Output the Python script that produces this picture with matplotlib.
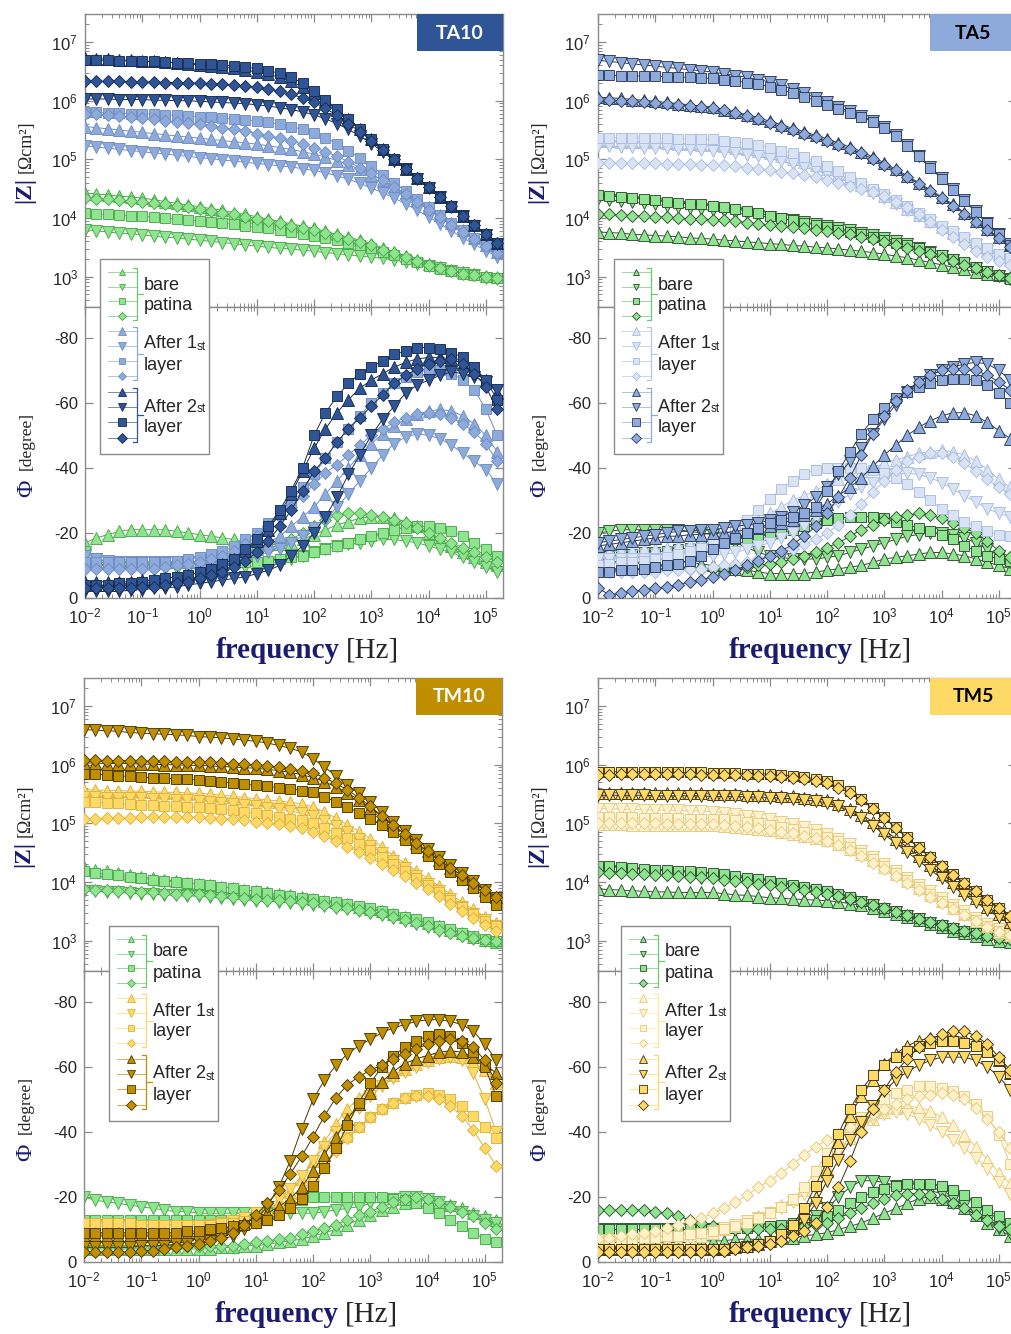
import numpy as np
import matplotlib
matplotlib.use('Agg')
import matplotlib.pyplot as plt
from matplotlib.patches import Rectangle
from matplotlib.ticker import LogLocator

plt.rcParams['font.family'] = ['Liberation Sans', 'DejaVu Sans']
plt.rcParams['axes.unicode_minus'] = False
plt.rcParams['mathtext.fontset'] = 'custom'
plt.rcParams['mathtext.rm'] = 'Liberation Sans'
plt.rcParams['mathtext.it'] = 'Liberation Sans:italic'
plt.rcParams['mathtext.bf'] = 'Liberation Sans:bold'

# ---------------- data ----------------
# measured frequencies (log10 Hz)
FREQ_EXP = [-2.0, -1.8, -1.6, -1.4, -1.2, -1.0, -0.8, -0.6, -0.4, -0.2,
            0.0, 0.2, 0.4, 0.6, 0.8, 1.0, 1.2, 1.4, 1.6, 1.8,
            2.0, 2.2, 2.4, 2.6, 2.8, 3.0, 3.2, 3.4, 3.6, 3.8,
            4.0, 4.2, 4.4, 4.6, 4.8, 5.0, 5.2]

GROUP_LABELS = [('bare', 'patina'), ('After 1', 'layer'), ('After 2', 'layer')]
PANEL_NAMES = ['TA10', 'TA5', 'TM10', 'TM5']

# each group: series in marker order [up-triangle, down-triangle, square, diamond]
# |Z| values as log10(|Z| / Ohm cm2); phase in degrees

# ---- TA10 ----
TA10_Z_BARE = [
    [4.42,4.41,4.39,4.37,4.36,4.34,4.31,4.28,4.25,4.22,4.19,4.16,4.13,4.09,4.06,4.02,3.98,3.94,3.90,3.86,3.82,3.77,3.72,3.67,3.62,3.56,3.49,3.42,3.35,3.28,3.22,3.16,3.11,3.07,3.04,3.01,2.99],
    [3.80,3.78,3.76,3.74,3.73,3.71,3.69,3.67,3.66,3.64,3.62,3.60,3.58,3.56,3.54,3.52,3.50,3.48,3.47,3.45,3.43,3.41,3.39,3.37,3.35,3.33,3.31,3.28,3.25,3.22,3.18,3.14,3.10,3.06,3.02,2.98,2.95],
    [4.08,4.07,4.06,4.05,4.04,4.03,4.01,4.00,3.98,3.97,3.95,3.93,3.91,3.89,3.86,3.84,3.82,3.79,3.76,3.73,3.70,3.66,3.62,3.58,3.53,3.48,3.42,3.36,3.30,3.24,3.18,3.13,3.09,3.05,3.02,2.99,2.98],
    [4.34,4.33,4.32,4.30,4.29,4.27,4.25,4.23,4.20,4.18,4.15,4.12,4.09,4.06,4.02,3.99,3.95,3.91,3.87,3.83,3.79,3.74,3.69,3.64,3.59,3.53,3.46,3.40,3.33,3.26,3.20,3.14,3.09,3.05,3.02,2.99,2.97]]
TA10_Z_L1 = [
    [5.56,5.54,5.52,5.50,5.48,5.46,5.44,5.42,5.40,5.38,5.36,5.34,5.32,5.30,5.28,5.26,5.23,5.20,5.17,5.13,5.09,5.04,4.98,4.91,4.83,4.74,4.64,4.53,4.42,4.30,4.18,4.05,3.92,3.79,3.66,3.54,3.42],
    [5.23,5.21,5.19,5.17,5.15,5.13,5.11,5.09,5.07,5.05,5.03,5.01,4.99,4.97,4.95,4.93,4.91,4.89,4.87,4.84,4.81,4.77,4.72,4.66,4.59,4.51,4.43,4.34,4.24,4.13,4.02,3.90,3.78,3.66,3.55,3.44,3.34],
    [5.80,5.80,5.79,5.79,5.78,5.78,5.77,5.76,5.75,5.74,5.73,5.72,5.70,5.69,5.67,5.65,5.63,5.60,5.56,5.51,5.45,5.37,5.27,5.15,5.02,4.88,4.74,4.60,4.46,4.32,4.18,4.05,3.92,3.79,3.66,3.54,3.42],
    [5.78,5.77,5.75,5.74,5.72,5.70,5.68,5.66,5.64,5.62,5.60,5.57,5.54,5.51,5.48,5.44,5.40,5.36,5.31,5.26,5.20,5.13,5.05,4.96,4.86,4.76,4.64,4.52,4.40,4.27,4.14,4.01,3.88,3.76,3.64,3.52,3.41]]
TA10_Z_L2 = [
    [6.73,6.72,6.71,6.70,6.69,6.68,6.67,6.66,6.65,6.63,6.61,6.59,6.57,6.55,6.52,6.49,6.45,6.40,6.33,6.24,6.13,6.00,5.85,5.69,5.52,5.35,5.18,5.01,4.84,4.68,4.52,4.36,4.20,4.04,3.88,3.73,3.58],
    [6.03,6.03,6.03,6.02,6.02,6.02,6.01,6.01,6.00,6.00,5.99,5.98,5.97,5.96,5.95,5.93,5.91,5.88,5.85,5.81,5.76,5.69,5.61,5.51,5.40,5.27,5.13,4.98,4.83,4.67,4.51,4.35,4.19,4.03,3.87,3.71,3.55],
    [6.69,6.69,6.69,6.68,6.68,6.67,6.67,6.66,6.65,6.64,6.63,6.62,6.61,6.59,6.57,6.55,6.51,6.47,6.40,6.30,6.17,6.02,5.86,5.69,5.52,5.35,5.18,5.01,4.84,4.68,4.52,4.36,4.20,4.04,3.88,3.73,3.58],
    [6.33,6.33,6.33,6.33,6.32,6.32,6.32,6.31,6.31,6.30,6.30,6.29,6.28,6.27,6.25,6.23,6.20,6.16,6.11,6.05,5.97,5.87,5.75,5.61,5.47,5.32,5.16,5.00,4.84,4.68,4.52,4.36,4.20,4.04,3.88,3.72,3.57]]
TA10_P_BARE = [
    [-17,-18.5,-19.5,-20.5,-21,-21,-21,-21,-20.5,-20,-19.5,-19,-18.5,-18,-17.5,-17,-16.5,-16.5,-17,-18,-19.5,-21,-22.5,-23.5,-24.5,-25,-25,-24.5,-23.5,-22,-20,-18,-16,-14,-12.5,-11,-10],
    [-14,-12,-11,-10,-9.5,-9,-9,-9,-9,-9,-9,-9,-9,-9,-9.5,-10,-10.5,-11,-12,-13,-14,-15,-16,-16.5,-17,-17.5,-18,-18,-17.5,-17,-16,-15,-14,-12.5,-11,-9.5,-8],
    [-10,-10,-10.5,-10.5,-10.5,-11,-11,-11,-11,-11,-11,-11,-11,-11,-11,-11,-11.5,-12,-12.5,-13,-14,-15,-16,-17,-18,-19,-20,-21,-21.5,-22,-22,-21.5,-20.5,-19,-17,-15,-13],
    [-10,-10,-10,-10,-10,-10,-10,-10.5,-10.5,-11,-11,-11.5,-12,-12.5,-13,-14,-15,-16.5,-18,-20,-22,-24,-25.5,-26,-26,-25.5,-25,-24,-23,-21.5,-20,-18.5,-17,-15.5,-14,-12.5,-11]]
TA10_P_L1 = [
    [-11,-11,-11,-11,-11,-11,-11,-11,-11,-11,-11.5,-12,-12.5,-13,-14,-15,-17,-19,-22,-25,-28,-32,-36,-40,-44,-47.5,-50.5,-53,-55,-56.5,-57.5,-58,-57.5,-56,-53.5,-50,-45],
    [-13,-12,-11.5,-11,-11,-11,-11,-11,-11,-11,-11,-11,-11.5,-12,-12.5,-13,-14,-15,-17,-19,-21.5,-24,-28,-32,-36,-40,-44,-47.5,-49.5,-50.5,-50,-49,-47,-44.5,-42,-39.5,-35],
    [-11,-11,-11,-11,-11,-11,-11,-11,-11.5,-12,-12.5,-13.5,-14.5,-16,-18,-20,-23,-26,-30,-34,-38,-43,-48,-52,-56,-60,-63,-66,-68,-69.5,-70,-70,-69,-67,-64,-58,-50],
    [-9,-9,-9,-9,-9,-9,-9,-9.5,-10,-10.5,-11,-12,-13,-14.5,-16.5,-19,-22,-25,-28,-31.5,-35,-38.5,-41,-44,-47,-50,-52,-54,-55.5,-56.5,-57,-56.5,-55.5,-53.5,-51,-47.5,-42]]
TA10_P_L2 = [
    [-5,-5,-5,-5,-5,-5.5,-5.5,-6,-6.5,-7,-8,-9,-10.5,-12,-14.5,-17.5,-21,-26,-32,-39,-46,-52,-57,-61,-64.5,-67,-69,-71,-72.5,-73.5,-74,-74,-73.5,-72,-70,-67,-63],
    [-2,-2,-2,-2,-2.5,-2.5,-3,-3,-3.5,-4,-4.5,-5,-5.5,-6,-6.5,-7.5,-8.5,-10,-13,-16,-20,-25,-31,-38,-44,-50,-55,-59,-63,-65.5,-67,-68.5,-69.5,-69,-68,-66.5,-64],
    [-4,-4,-4,-4.5,-4.5,-5,-5.5,-6,-6.5,-7,-8,-9,-10.5,-12,-15,-18,-22,-27,-33,-40,-50,-57,-62,-66,-69,-71,-73,-75,-76,-77,-77,-76.5,-75.5,-74,-71,-67,-61],
    [-3,-3,-3,-3,-3,-3.5,-3.5,-4,-4.5,-5,-6,-7,-8,-9.5,-11.5,-14,-17.5,-22,-27,-33,-39,-43,-48,-52,-55.5,-59,-62.5,-66,-68.5,-70.5,-72,-73,-73.5,-72,-69,-65,-58]]

# ---- TA5 ----
TA5_Z_BARE = [
    [3.76,3.75,3.74,3.72,3.71,3.70,3.69,3.68,3.66,3.65,3.64,3.62,3.61,3.59,3.58,3.56,3.55,3.53,3.52,3.50,3.49,3.47,3.45,3.43,3.41,3.38,3.35,3.32,3.28,3.24,3.20,3.16,3.12,3.08,3.05,3.02,3.00],
    [4.33,4.31,4.29,4.27,4.25,4.23,4.21,4.19,4.17,4.15,4.13,4.11,4.08,4.06,4.04,4.01,3.99,3.96,3.93,3.90,3.87,3.83,3.79,3.75,3.71,3.66,3.61,3.55,3.49,3.42,3.35,3.28,3.21,3.14,3.07,3.01,2.96],
    [4.39,4.38,4.36,4.34,4.32,4.30,4.28,4.26,4.24,4.23,4.21,4.19,4.15,4.12,4.08,4.04,4.00,3.96,3.92,3.88,3.84,3.80,3.76,3.72,3.68,3.63,3.58,3.53,3.48,3.42,3.36,3.30,3.24,3.17,3.09,3.02,2.96],
    [4.07,4.06,4.05,4.04,4.03,4.02,4.01,4.00,3.99,3.98,3.97,3.96,3.94,3.92,3.90,3.88,3.86,3.84,3.82,3.80,3.78,3.75,3.72,3.68,3.64,3.59,3.54,3.49,3.44,3.38,3.32,3.26,3.20,3.14,3.08,3.02,2.97]]
TA5_Z_L1 = [
    [5.31,5.31,5.30,5.30,5.29,5.29,5.28,5.27,5.26,5.25,5.24,5.22,5.20,5.17,5.14,5.10,5.06,5.01,4.96,4.90,4.83,4.75,4.66,4.57,4.47,4.37,4.27,4.16,4.05,3.94,3.84,3.74,3.64,3.54,3.45,3.37,3.29],
    [5.22,5.22,5.21,5.21,5.20,5.20,5.19,5.18,5.17,5.16,5.15,5.13,5.11,5.08,5.05,5.01,4.97,4.92,4.87,4.81,4.75,4.68,4.60,4.52,4.43,4.34,4.24,4.14,4.03,3.93,3.83,3.73,3.63,3.53,3.44,3.36,3.28],
    [5.37,5.37,5.37,5.37,5.36,5.36,5.36,5.35,5.35,5.34,5.34,5.32,5.30,5.28,5.24,5.20,5.15,5.10,5.04,4.97,4.89,4.80,4.70,4.60,4.50,4.40,4.30,4.20,4.09,3.98,3.87,3.77,3.67,3.57,3.48,3.39,3.31],
    [4.94,4.94,4.94,4.93,4.93,4.93,4.92,4.92,4.92,4.91,4.91,4.90,4.88,4.86,4.84,4.82,4.79,4.76,4.73,4.69,4.65,4.60,4.55,4.50,4.44,4.37,4.28,4.18,4.06,3.93,3.80,3.67,3.55,3.44,3.34,3.26,3.20]]
TA5_Z_L2 = [
    [6.06,6.05,6.04,6.02,6.01,5.99,5.97,5.95,5.93,5.91,5.89,5.85,5.81,5.76,5.71,5.65,5.59,5.53,5.47,5.41,5.35,5.28,5.21,5.13,5.04,4.94,4.83,4.72,4.60,4.48,4.36,4.23,4.09,3.95,3.81,3.67,3.53],
    [6.69,6.67,6.65,6.63,6.61,6.59,6.57,6.55,6.53,6.51,6.49,6.46,6.43,6.40,6.36,6.32,6.26,6.20,6.13,6.05,5.97,5.89,5.82,5.74,5.66,5.55,5.41,5.25,5.06,4.87,4.68,4.49,4.30,4.11,3.92,3.73,3.55],
    [6.44,6.44,6.43,6.43,6.42,6.42,6.41,6.40,6.40,6.39,6.38,6.36,6.34,6.31,6.28,6.24,6.19,6.13,6.07,6.00,5.93,5.86,5.79,5.72,5.64,5.53,5.39,5.23,5.05,4.86,4.67,4.48,4.29,4.10,3.91,3.72,3.54],
    [6.03,6.02,6.00,5.99,5.97,5.96,5.94,5.93,5.91,5.90,5.88,5.84,5.79,5.74,5.68,5.62,5.56,5.50,5.44,5.38,5.32,5.25,5.18,5.10,5.01,4.91,4.81,4.70,4.58,4.46,4.34,4.21,4.07,3.93,3.79,3.65,3.51]]
TA5_P_BARE = [
    [-13,-13,-13,-12.5,-12.5,-12,-12,-11.5,-11,-10.5,-10,-9.5,-9,-8.5,-8,-7.5,-7.5,-7.5,-7.5,-8,-8.5,-9,-9.5,-10,-11,-12,-12.5,-13,-13.5,-14,-14,-13.5,-13,-12,-11,-10,-9],
    [-20,-20.5,-21,-21,-21,-21,-21,-21,-20.5,-20,-19.5,-18.5,-17,-15.5,-14,-13,-12.5,-12,-12,-12,-12.5,-13,-14,-15,-16,-17,-18,-19,-19.5,-20,-20,-19.5,-18.5,-17,-15,-13,-11],
    [-13,-13,-13.5,-13.5,-14,-14,-14.5,-15,-15.5,-16,-17,-17.5,-18,-18.5,-19,-19.5,-20,-21,-22,-23,-24,-24.5,-25,-25,-25,-24.5,-23.5,-22.5,-21.5,-20.5,-19.5,-18,-16,-14.5,-13,-12,-11.5],
    [-9,-9,-9,-9,-9,-9,-9,-9,-9,-9,-9,-9,-9,-9.5,-10,-10.5,-11,-12,-13,-14,-15.5,-17,-19,-21,-22.5,-24,-25,-25.5,-26,-25.5,-24.5,-23,-21.5,-20,-17.5,-14.5,-12.5]]
TA5_P_L1 = [
    [-14,-14,-14.5,-14.5,-15,-15,-15.5,-16,-16.5,-17,-18,-19,-20.5,-22,-24,-26,-28,-30,-31.5,-33,-35,-36.5,-38,-39,-40,-41.5,-42.5,-43.5,-44.5,-45,-45.5,-45,-44,-42,-39.5,-36.5,-34],
    [-12,-12,-12,-12,-12,-12,-12,-12,-12.5,-12.5,-13,-13.5,-14,-15,-16,-17,-18.5,-20,-22,-24.5,-27,-29.5,-32,-34,-35.5,-37,-38,-38.5,-38,-37,-35.5,-33.5,-31.5,-29.5,-27.5,-26,-25],
    [-10,-10.5,-11,-11,-11.5,-12,-12.5,-13.5,-14.5,-15.5,-17,-19,-21.5,-24,-27,-30.5,-33.5,-36,-38,-39.5,-40,-40,-40,-40,-39.5,-38.5,-37,-35,-32.5,-30,-27.5,-25.5,-23.5,-22,-20.5,-19.5,-19],
    [-8,-8,-8,-8,-8,-8,-8.5,-8.5,-9,-9,-9.5,-10,-10.5,-11,-12,-13,-14,-15,-16.5,-18,-20,-22.5,-25.5,-29,-32.5,-36,-39.5,-42,-43.5,-44.5,-44.5,-43.5,-41.5,-39,-36.5,-34,-32]]
TA5_P_L2 = [
    [-16,-16.5,-17,-17.5,-18,-18.5,-19,-19,-19.5,-19.5,-20,-20,-20.5,-21,-21.5,-22,-23,-24,-25.5,-27,-29,-31.5,-34,-37,-40.5,-44,-47,-50,-52.5,-54.5,-56,-57,-57,-56,-54,-51.5,-49],
    [-17,-17.5,-18,-18.5,-19,-19.5,-20,-20.5,-20.5,-21,-21,-21.5,-22,-22.5,-23,-24,-25,-26.5,-28.5,-31,-34,-38,-42,-46,-50.5,-55,-59.5,-63.5,-66.5,-68.5,-70,-71,-72,-72.5,-72,-70,-67],
    [-8,-8,-8.5,-8.5,-9,-9.5,-10,-10.5,-11.5,-13,-15,-17,-18.5,-20,-21.5,-23,-24,-25,-26,-28,-33,-39,-45,-50.5,-55,-58.5,-61.5,-63.5,-65,-66,-67,-67.5,-67.5,-67,-65.5,-63,-60],
    [-3,-1,-1.5,-2,-2.5,-3,-3.5,-4,-5,-5.5,-6.5,-7.5,-8.5,-10,-11.5,-13,-14.5,-16.5,-19,-22,-26,-31,-37,-44,-50.5,-56,-60.5,-64,-66.5,-68.5,-70,-70.5,-70.5,-70,-68.5,-66.5,-64]]

# ---- TM10 ----
TM10_Z_BARE = [
    [4.25,4.21,4.18,4.15,4.12,4.09,4.06,4.04,4.01,3.99,3.97,3.94,3.92,3.89,3.87,3.84,3.82,3.79,3.77,3.74,3.71,3.68,3.65,3.62,3.58,3.54,3.50,3.45,3.40,3.35,3.30,3.24,3.18,3.12,3.06,3.01,2.98],
    [3.85,3.84,3.83,3.82,3.81,3.80,3.79,3.78,3.77,3.76,3.76,3.74,3.73,3.71,3.70,3.68,3.67,3.66,3.64,3.63,3.61,3.59,3.56,3.53,3.50,3.47,3.43,3.39,3.34,3.29,3.23,3.17,3.12,3.07,3.03,3.00,2.98],
    [4.19,4.16,4.13,4.11,4.08,4.06,4.04,4.02,4.00,3.98,3.96,3.94,3.91,3.89,3.86,3.84,3.81,3.78,3.76,3.73,3.71,3.68,3.65,3.62,3.59,3.55,3.51,3.46,3.41,3.36,3.31,3.25,3.19,3.13,3.07,3.02,2.99],
    [3.88,3.87,3.86,3.85,3.84,3.83,3.82,3.81,3.80,3.79,3.79,3.77,3.76,3.74,3.73,3.71,3.70,3.69,3.67,3.66,3.64,3.61,3.58,3.55,3.52,3.49,3.45,3.40,3.35,3.30,3.24,3.18,3.13,3.08,3.04,3.01,2.99]]
TM10_Z_L1 = [
    [5.57,5.57,5.56,5.56,5.55,5.55,5.54,5.53,5.53,5.52,5.51,5.50,5.48,5.46,5.44,5.42,5.40,5.38,5.36,5.33,5.28,5.19,5.09,4.98,4.86,4.74,4.60,4.45,4.32,4.19,4.06,3.93,3.79,3.66,3.53,3.41,3.30],
    [5.45,5.45,5.44,5.44,5.43,5.43,5.42,5.41,5.40,5.39,5.38,5.37,5.35,5.33,5.31,5.29,5.27,5.24,5.21,5.17,5.12,5.04,4.95,4.85,4.74,4.62,4.49,4.36,4.23,4.10,3.97,3.84,3.71,3.58,3.46,3.35,3.25],
    [5.37,5.36,5.35,5.34,5.33,5.32,5.31,5.30,5.29,5.28,5.28,5.26,5.24,5.22,5.19,5.17,5.14,5.11,5.08,5.05,5.00,4.92,4.84,4.75,4.65,4.55,4.43,4.31,4.19,4.07,3.95,3.83,3.70,3.58,3.46,3.34,3.24],
    [5.08,5.08,5.09,5.09,5.09,5.10,5.10,5.10,5.10,5.10,5.10,5.09,5.08,5.07,5.05,5.03,5.01,4.99,4.96,4.92,4.86,4.78,4.69,4.60,4.51,4.41,4.31,4.20,4.10,3.99,3.88,3.76,3.63,3.51,3.39,3.27,3.17]]
TM10_Z_L2 = [
    [6.03,6.03,6.02,6.02,6.02,6.01,6.01,6.00,6.00,5.99,5.99,5.98,5.97,5.96,5.95,5.94,5.92,5.90,5.87,5.83,5.78,5.71,5.62,5.52,5.40,5.27,5.12,4.97,4.82,4.67,4.52,4.38,4.24,4.11,3.98,3.86,3.74],
    [6.60,6.59,6.58,6.57,6.55,6.54,6.53,6.52,6.51,6.50,6.48,6.47,6.46,6.44,6.42,6.40,6.37,6.33,6.28,6.22,6.10,5.96,5.81,5.66,5.51,5.36,5.20,5.03,4.87,4.72,4.57,4.43,4.29,4.15,4.01,3.87,3.73],
    [5.85,5.84,5.83,5.81,5.80,5.79,5.78,5.77,5.76,5.75,5.74,5.72,5.71,5.69,5.67,5.65,5.63,5.61,5.59,5.56,5.53,5.45,5.37,5.28,5.18,5.08,4.97,4.85,4.72,4.58,4.44,4.31,4.17,4.03,3.89,3.75,3.61],
    [6.08,6.08,6.07,6.07,6.07,6.06,6.06,6.06,6.05,6.05,6.05,6.04,6.03,6.02,6.01,6.00,5.98,5.96,5.93,5.89,5.86,5.78,5.68,5.57,5.44,5.29,5.13,4.97,4.82,4.67,4.52,4.38,4.24,4.11,3.98,3.86,3.74]]
TM10_P_BARE = [
    [-4,-4,-4,-4,-4,-4,-4,-4,-4,-4,-4,-4,-4.5,-4.5,-5,-5,-5.5,-6,-6.5,-7,-8,-9,-10,-11.5,-13,-14.5,-16,-17,-18,-18.5,-19,-18.5,-17.5,-16.5,-15,-14,-13],
    [-20,-19,-18.5,-18,-17.5,-17,-16.5,-16,-15.5,-15.5,-15,-15,-15,-15,-15,-15,-15,-15,-15,-15,-15,-15.5,-16,-16.5,-17,-18,-18.5,-19.5,-20,-20,-19.5,-18.5,-17,-15.5,-14,-13,-12],
    [-13,-13,-13,-13,-13,-13,-13,-13,-13,-13,-13,-13,-13,-13,-13.5,-14,-15,-16,-17.5,-19,-20,-20,-20,-20,-20,-20,-20,-19.5,-19,-18,-16.5,-15,-13,-11,-9,-7,-6],
    [-5,-5,-5,-5,-5,-5,-5,-5,-5,-5,-5,-5,-5,-5,-5.5,-6,-6.5,-7,-7.5,-8.5,-9.5,-10.5,-11.5,-13,-14.5,-15.5,-17,-18.5,-19.5,-20,-19.5,-18.5,-17,-15.5,-14,-12,-10]]
TM10_P_L1 = [
    [-10,-10,-10,-10,-10,-10,-10,-10,-10,-10,-10.5,-11,-11.5,-12,-13,-14,-16,-18.5,-21.5,-25.5,-31,-37,-42.5,-47,-50.5,-53,-55.5,-57.5,-59.5,-61,-62,-63,-63.5,-63,-61.5,-59,-55],
    [-11,-11,-11,-11,-11,-11,-11,-11,-11,-11,-11,-11.5,-12,-12.5,-13.5,-15,-17,-19.5,-22.5,-26.5,-31,-35.5,-40,-44,-47.5,-51,-54,-56.5,-58.5,-60,-61.5,-62.5,-63,-62,-58,-50,-40],
    [-12,-12,-12,-12,-12,-11.5,-11.5,-11.5,-11.5,-11.5,-11.5,-11.5,-12,-12,-12.5,-13,-14,-15.5,-17.5,-20.5,-25,-30,-35,-38.5,-41.5,-44.5,-47,-49,-50.5,-51.5,-52,-51.5,-50,-48,-45,-41.5,-38],
    [-9,-9,-9,-9,-9,-9,-9,-9,-9,-9,-9,-9.5,-10,-10.5,-11,-12,-13.5,-15.5,-18,-21,-25,-29.5,-34,-38,-41.5,-44.5,-47,-49,-50.5,-51,-51,-50,-48,-45,-40.5,-35,-29.5]]
TM10_P_L2 = [
    [-8,-8,-8,-8,-8,-8,-8,-8,-8,-8.5,-9,-9.5,-10,-11,-12,-13.5,-15,-17,-19.5,-23,-28,-33,-38.5,-44,-48.5,-52,-55.5,-58.5,-61,-62.5,-63.5,-64.5,-65,-64.5,-63,-61,-58],
    [-4.5,-4.5,-4.5,-4.5,-4.5,-5,-5,-5,-5.5,-5.5,-6,-6.5,-7,-8,-10,-13,-17,-23,-31,-41,-50,-56,-60.5,-64,-66.5,-68.5,-70.5,-72,-73,-74,-74.5,-74.5,-74,-73,-71,-67,-62],
    [-9,-9,-9,-9,-9,-9,-9,-9,-9,-9.5,-9.5,-10,-10.5,-11,-11.5,-12,-13,-14.5,-16.5,-19.5,-23.5,-29,-35,-42,-49,-55,-60,-63.5,-66,-68,-69.5,-70,-69.5,-67.5,-64.5,-60,-51],
    [-3,-3,-3,-3,-3,-3.5,-3.5,-4,-4.5,-5,-5.5,-6.5,-7.5,-9,-11.5,-14.5,-18,-22,-27,-32.5,-38.5,-45,-50.5,-54.5,-57,-59,-60.5,-62.5,-64,-65.5,-67,-68,-68.5,-68,-66,-62,-55]]

# ---- TM5 ----
TM5_Z_BARE = [
    [3.88,3.87,3.86,3.85,3.84,3.83,3.83,3.82,3.82,3.82,3.82,3.80,3.78,3.77,3.75,3.73,3.72,3.71,3.70,3.69,3.68,3.66,3.63,3.60,3.56,3.51,3.45,3.40,3.35,3.29,3.23,3.17,3.12,3.07,3.03,3.00,2.98],
    [4.19,4.18,4.17,4.15,4.14,4.12,4.11,4.10,4.08,4.07,4.06,4.04,4.01,3.99,3.96,3.94,3.91,3.88,3.85,3.82,3.79,3.75,3.70,3.65,3.60,3.54,3.48,3.42,3.36,3.30,3.25,3.20,3.15,3.11,3.08,3.05,3.03],
    [4.28,4.27,4.26,4.24,4.22,4.21,4.20,4.19,4.18,4.17,4.16,4.13,4.10,4.07,4.05,4.02,3.99,3.95,3.92,3.88,3.85,3.80,3.74,3.68,3.62,3.56,3.50,3.44,3.38,3.32,3.26,3.21,3.16,3.12,3.09,3.06,3.04],
    [4.17,4.16,4.15,4.14,4.13,4.12,4.11,4.10,4.09,4.08,4.06,4.04,4.02,4.00,3.97,3.95,3.92,3.89,3.86,3.83,3.80,3.76,3.71,3.66,3.61,3.55,3.49,3.43,3.37,3.31,3.26,3.21,3.16,3.12,3.08,3.05,3.03]]
TM5_Z_L1 = [
    [4.99,4.99,4.99,4.98,4.98,4.98,4.98,4.97,4.97,4.97,4.97,4.96,4.94,4.92,4.90,4.88,4.85,4.82,4.78,4.75,4.71,4.64,4.56,4.47,4.37,4.25,4.13,4.01,3.89,3.78,3.67,3.56,3.45,3.34,3.24,3.15,3.09],
    [5.25,5.25,5.24,5.24,5.23,5.23,5.22,5.22,5.21,5.21,5.20,5.18,5.16,5.13,5.10,5.07,5.03,4.99,4.94,4.88,4.82,4.74,4.64,4.53,4.42,4.30,4.19,4.07,3.95,3.84,3.72,3.61,3.50,3.39,3.29,3.20,3.15],
    [5.10,5.10,5.10,5.10,5.09,5.09,5.09,5.09,5.08,5.08,5.08,5.07,5.05,5.03,5.00,4.97,4.94,4.90,4.86,4.81,4.76,4.69,4.60,4.50,4.39,4.27,4.15,4.03,3.91,3.80,3.68,3.57,3.46,3.35,3.25,3.16,3.11],
    [5.00,5.00,5.00,5.00,5.00,5.00,4.99,4.99,4.99,4.99,4.99,4.98,4.96,4.94,4.92,4.89,4.86,4.83,4.79,4.75,4.70,4.63,4.54,4.44,4.33,4.22,4.10,3.98,3.86,3.75,3.64,3.53,3.43,3.33,3.23,3.15,3.10]]
TM5_Z_L2 = [
    [5.52,5.52,5.52,5.52,5.52,5.52,5.51,5.51,5.51,5.51,5.50,5.50,5.50,5.49,5.49,5.48,5.47,5.46,5.44,5.42,5.39,5.33,5.25,5.15,5.03,4.89,4.74,4.59,4.44,4.29,4.14,4.00,3.86,3.72,3.58,3.45,3.32],
    [5.48,5.48,5.48,5.48,5.48,5.47,5.47,5.47,5.47,5.47,5.46,5.46,5.46,5.45,5.45,5.44,5.43,5.42,5.40,5.38,5.35,5.29,5.20,5.09,4.96,4.81,4.66,4.51,4.36,4.21,4.06,3.92,3.78,3.65,3.52,3.40,3.28],
    [5.88,5.88,5.88,5.88,5.88,5.87,5.87,5.87,5.87,5.87,5.86,5.86,5.86,5.85,5.85,5.84,5.83,5.81,5.79,5.76,5.72,5.65,5.55,5.42,5.27,5.10,4.93,4.76,4.59,4.43,4.28,4.13,3.99,3.85,3.70,3.55,3.40],
    [5.82,5.83,5.84,5.84,5.84,5.84,5.84,5.84,5.84,5.83,5.83,5.83,5.82,5.82,5.81,5.80,5.79,5.77,5.75,5.72,5.68,5.61,5.52,5.40,5.25,5.09,4.92,4.75,4.58,4.42,4.27,4.12,3.98,3.84,3.70,3.56,3.42]]
TM5_P_BARE = [
    [-6,-6,-6,-6,-6,-6,-6,-6,-6,-6.5,-6.5,-6.5,-7,-7,-7,-7,-7.5,-7.5,-8,-8.5,-9,-10,-11,-12,-13.5,-15,-16.5,-18,-19.5,-20,-19.5,-18.5,-16.5,-14.5,-12,-10,-8],
    [-10,-10,-10,-10,-10,-10,-10,-10,-10,-10,-10,-10,-10,-10,-10,-10,-10.5,-11,-12,-14,-16.5,-20,-23,-25,-25,-24.5,-23.5,-23,-22.5,-22,-21,-19.5,-17.5,-15,-12.5,-10.5,-9],
    [-10,-10,-10,-10,-10,-10,-10,-10,-10,-10,-10,-10,-10.5,-10.5,-11,-11,-11.5,-12,-12.5,-13,-14,-16,-18,-20,-21.5,-22.5,-23.5,-24,-24,-24,-23.5,-22,-20.5,-18.5,-16,-14,-12],
    [-16,-16,-16,-16,-16,-15.5,-15,-14,-13,-12,-11,-10.5,-10,-10,-10,-10,-10,-10.5,-11,-11.5,-12,-13.5,-15,-16.5,-18,-19.5,-20.5,-21,-21,-20.5,-19.5,-18,-16.5,-14.5,-13,-11,-10]]
TM5_P_L1 = [
    [-5,-5,-5,-5,-5.5,-5.5,-6,-6.5,-7,-8,-9,-10,-11,-12.5,-14,-15.5,-17.5,-19.5,-22,-25,-29,-33.5,-38,-41.5,-44,-46,-47.5,-48,-47.5,-46.5,-44.5,-42,-39,-35.5,-31.5,-27.5,-24],
    [-5,-5,-5,-5.5,-5.5,-6,-6.5,-7,-7.5,-8.5,-9.5,-10.5,-11.5,-12.5,-13.5,-15,-16.5,-18.5,-21,-24.5,-29,-34,-38.5,-41.5,-44,-45.5,-46,-45.5,-44,-42,-40,-37.5,-35,-32,-28.5,-24.5,-21],
    [-7,-7,-7,-7,-7.5,-7.5,-8,-8,-8.5,-9,-9.5,-10,-11,-12,-13.5,-15,-17,-19.5,-23,-28,-33.5,-38,-41.5,-44.5,-47.5,-50,-52,-53,-54,-54,-53.5,-52.5,-51,-48.5,-45,-39,-30],
    [-7,-7.5,-8,-8.5,-9,-9.5,-10.5,-11.5,-12.5,-13.5,-15,-16.5,-18.5,-20.5,-23,-25,-27.5,-30,-33,-35.5,-37.5,-39.5,-41.5,-43.5,-45.5,-47,-48.5,-50,-51,-51.5,-52,-51.5,-50,-47.5,-44,-40,-35]]
TM5_P_L2 = [
    [-4,-4,-4,-4,-4,-4,-4,-4,-4,-4,-4,-4,-4.5,-5,-5.5,-6.5,-8,-10.5,-14,-20,-28,-37,-45,-51,-56,-61,-64,-66.5,-68,-69,-69.5,-69.5,-69,-68,-65.5,-62,-58],
    [-3,-3,-3,-3,-3,-3,-3,-3,-3,-3,-3.5,-3.5,-4,-4.5,-5,-6,-7.5,-9.5,-13,-18,-25,-31.5,-37.5,-43,-48,-52.5,-56,-58.5,-60.5,-62,-63,-63,-63,-62,-60,-57,-53],
    [-4,-4,-4,-4,-4,-4,-4,-4,-4,-4,-4,-4,-4.5,-4.5,-5.5,-6.5,-8.5,-11.5,-16.5,-23.5,-31,-39.5,-47,-53,-57.5,-60.5,-63,-65,-66.5,-67.5,-68,-68,-67.5,-66.5,-64.5,-62,-58],
    [-3,-3,-3,-3,-3,-3,-3,-3,-3,-3,-3.5,-3.5,-4,-4.5,-5,-5.5,-6.5,-8,-9.5,-12,-17,-23,-31,-40,-47,-53,-58.5,-62.5,-66,-68.5,-70,-71,-71,-69.5,-67,-63,-59]]

# ---------------- styling ----------------
W, H = 1011, 1334
NAVY = '#1c1c6e'
SPINE = '#8a8a8a'
TXT = '#262626'
SERIF = ['Liberation Serif', 'DejaVu Serif']
MK = ['^', 'v', 's', 'D']
MS = [8.8, 8.8, 7.6, 6.2]
LMS = [[4.8, 4.8, 4.2, 3.6], [5.4, 5.4, 4.8, 4.0], [6.2, 6.2, 5.4, 4.6]]

PANELS = [
    dict(left=85, top=14, z=(TA10_Z_BARE, TA10_Z_L1, TA10_Z_L2), p=(TA10_P_BARE, TA10_P_L1, TA10_P_L2),
         face=['#8fe48f', '#8eaadb', '#2f5597'], edge=['#4aa84a', '#6d8dc4', '#172c50'],
         brk=['#6cc96c', '#8eaadb', '#2f5597'], box='#2f5597', boxtxt='white', leg=(100, 259)),
    dict(left=598, top=14, z=(TA5_Z_BARE, TA5_Z_L1, TA5_Z_L2), p=(TA5_P_BARE, TA5_P_L1, TA5_P_L2),
         face=['#8fe48f', '#dae3f3', '#8eaadb'], edge=['#2f4f2f', '#a9bde2', '#2b3a5c'],
         brk=['#6cc96c', '#b4c7e7', '#8eaadb'], box='#8eaadb', boxtxt='black', leg=(614, 259)),
    dict(left=84, top=678, z=(TM10_Z_BARE, TM10_Z_L1, TM10_Z_L2), p=(TM10_P_BARE, TM10_P_L1, TM10_P_L2),
         face=['#8fe48f', '#ffd966', '#bf8f00'], edge=['#4aa84a', '#dab23e', '#4a3800'],
         brk=['#6cc96c', '#ffd966', '#bf8f00'], box='#bf8f00', boxtxt='white', leg=(109, 926)),
    dict(left=598, top=678, z=(TM5_Z_BARE, TM5_Z_L1, TM5_Z_L2), p=(TM5_P_BARE, TM5_P_L1, TM5_P_L2),
         face=['#8fe48f', '#fff2cc', '#ffd966'], edge=['#2f4f2f', '#e4ca7e', '#3b3010'],
         brk=['#6cc96c', '#ffe699', '#ffd966'], box='#ffd966', boxtxt='black', leg=(621, 926)),
]

fig = plt.figure(figsize=(W / 100, H / 100), dpi=100)
freq = 10.0 ** np.array(FREQ_EXP)

AXW, ZH, PH = 418, 293, 291


def fx(x):
    return x / W


def fy(y):
    return 1 - y / H


def common(ax):
    ax.set_xscale('log')
    ax.set_xlim(1e-2, 10 ** 5.3)
    ax.xaxis.set_major_locator(LogLocator(base=10, numticks=20))
    ax.xaxis.set_minor_locator(LogLocator(base=10, subs=np.arange(2, 10), numticks=20))
    ax.tick_params(which='both', direction='in', top=True, right=True, bottom=True, left=True,
                   color=SPINE, labelcolor=TXT, labelsize=12)
    ax.tick_params(which='major', length=6, width=0.9)
    ax.tick_params(which='minor', length=3, width=0.7)
    ax.tick_params(axis='y', pad=5)
    for s in ax.spines.values():
        s.set_color(SPINE)
        s.set_linewidth(1.0)
    ax.set_facecolor('white')


ov = fig.add_axes([0, 0, 1, 1], zorder=20)
ov.set_xlim(0, W)
ov.set_ylim(H, 0)
ov.axis('off')
ov.patch.set_alpha(0)

for pi, P in enumerate(PANELS):
    L, T = P['left'], P['top']
    axz = fig.add_axes([fx(L), fy(T + ZH), AXW / W, ZH / H])
    axp = fig.add_axes([fx(L), fy(T + ZH + PH), AXW / W, PH / H])
    common(axz)
    common(axp)
    axz.set_yscale('log')
    axz.set_ylim(10 ** 2.48, 10 ** 7.48)
    axz.yaxis.set_major_locator(LogLocator(base=10, numticks=20))
    axz.yaxis.set_minor_locator(LogLocator(base=10, subs=np.arange(2, 10), numticks=20))
    axz.tick_params(labelbottom=False)
    axp.set_ylim(0, -89.5)
    axp.set_yticks([-80, -60, -40, -20, 0])
    axp.tick_params(axis='x', pad=6)

    for g in range(3):
        for k in range(4):
            zv = 10.0 ** np.array(P['z'][g][k])
            pv = np.array(P['p'][g][k])
            kw = dict(ls='-', lw=0.7, color=P['edge'][g], marker=MK[k], ms=MS[k],
                      mfc=P['face'][g], mec=P['edge'][g], mew=0.65, zorder=2 + g)
            axz.plot(freq[:len(zv)], zv, **kw)
            axp.plot(freq[:len(pv)], pv, **kw)

    # name box
    axz.add_patch(Rectangle((1 - 86 / AXW, 1 - 37 / ZH), 86 / AXW, 37 / ZH, transform=axz.transAxes,
                            fc=P['box'], ec='none', zorder=10, clip_on=False))
    axz.text(1 - 43 / AXW, 1 - 19 / ZH, PANEL_NAMES[pi], transform=axz.transAxes, ha='center',
             va='center', color=P['boxtxt'], fontsize=14, fontweight='bold',
             family=['Lato', 'DejaVu Sans'], zorder=11)

    # axis labels
    fig.text(fx(L - 60), fy(T + 176), '|Z|', rotation=90, ha='center', va='center',
             family=SERIF, weight='bold', size=17, color=NAVY)
    fig.text(fx(L - 59), fy(T + 133), '[\u03a9cm\u00b2]', rotation=90, ha='center', va='center',
             family=SERIF, size=13, color=TXT)
    fig.text(fx(L - 58), fy(T + 474), '\u03a6', rotation=90, ha='center', va='center',
             family=SERIF, size=17, color=NAVY)
    fig.text(fx(L - 58), fy(T + 427), '[degree]', rotation=90, ha='center', va='center',
             family=SERIF, size=12.5, color=TXT)
    fig.text(fx(L + 255), fy(T + 644), 'frequency', ha='right', va='baseline',
             family=SERIF, weight='bold', size=21, color=NAVY)
    fig.text(fx(L + 261), fy(T + 644), '[Hz]', ha='left', va='baseline',
             family=SERIF, size=21, color=TXT)

    # legend
    x0, y0 = P['leg']
    ov.add_patch(Rectangle((x0, y0), 109, 195, fc='white', ec='#8c8c8c', lw=1.0, zorder=1))
    rows = [[13, 28, 42, 57], [72, 87, 102, 117], [133, 148, 163, 179]]
    for g in range(3):
        for k in range(4):
            yy = y0 + rows[g][k]
            ov.plot([x0 + 8, x0 + 36], [yy, yy], color=P['brk'][g], lw=0.7, alpha=0.7, zorder=2)
            ov.plot([x0 + 22], [yy], marker=MK[k], ms=LMS[g][k], mfc=P['face'][g], mec=P['edge'][g],
                    mew=0.6, zorder=3)
        ya, yb = y0 + rows[g][0] - 4, y0 + rows[g][3] + 4
        ov.plot([x0 + 33, x0 + 37, x0 + 37, x0 + 33], [ya, ya, yb, yb], color=P['brk'][g], lw=0.9, zorder=2)
        ym = (ya + yb) / 2
        ov.plot([x0 + 37, x0 + 43], [ym, ym], color=P['brk'][g], lw=0.9, zorder=2)
        l1, l2 = GROUP_LABELS[g]
        ytop = y0 + [26, 85, 148][g]
        t = ov.text(x0 + 44, ytop, l1, ha='left', va='center', fontsize=13, color=TXT, zorder=4)
        if g > 0:
            ov.annotate('st', xy=(1, 0), xycoords=t, ha='left', va='bottom', fontsize=8.5,
                        color=TXT, zorder=4)
        ov.text(x0 + 44, ytop + 21, l2, ha='left', va='center', fontsize=13, color=TXT, zorder=4)

fig.savefig('out.png', dpi=100, facecolor='white')
